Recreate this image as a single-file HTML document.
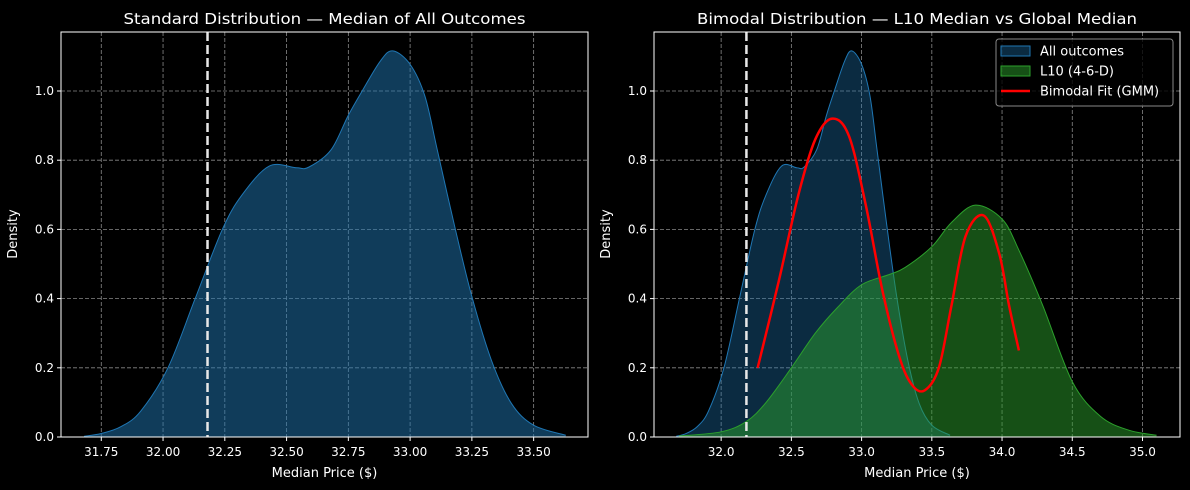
<!DOCTYPE html>
<html><head><meta charset="utf-8"><style>
html,body{margin:0;padding:0;background:#000;width:1190px;height:490px;overflow:hidden}
svg{display:block;font-family:"DejaVu Sans","Liberation Sans",sans-serif}
</style></head><body>
<svg id="chart" width="1190" height="490" viewBox="0 0 1190 490"></svg>
<script>
const allX=[31.68,31.75,31.83,31.91,32.02,32.13,32.24,32.32,32.43,32.54,32.59,32.68,32.75,32.81,32.88,32.93,33.0,33.06,33.11,33.18,33.25,33.33,33.41,33.5,33.63];
const allY=[0.002,0.01,0.03,0.075,0.2,0.4,0.6,0.7,0.783,0.778,0.78,0.83,0.93,1.005,1.087,1.116,1.077,0.985,0.83,0.61,0.406,0.22,0.097,0.034,0.005];
const l10X=[31.7,32.0,32.18,32.32,32.5,32.67,32.83,33.0,33.2,33.31,33.5,33.64,33.81,34.0,34.12,34.29,34.5,34.7,34.9,35.1];
const l10Y=[0.003,0.015,0.045,0.1,0.2,0.3,0.375,0.44,0.47,0.49,0.55,0.62,0.67,0.63,0.54,0.38,0.16,0.06,0.02,0.005];
const gmmX=[32.26,32.41,32.55,32.67,32.79,32.91,33.03,33.15,33.27,33.36,33.45,33.55,33.64,33.74,33.87,33.98,34.05,34.12];
const gmmY=[0.2,0.45,0.7,0.86,0.92,0.87,0.67,0.42,0.23,0.15,0.135,0.2,0.38,0.58,0.64,0.53,0.38,0.25];
const medianVal=32.18;
const leftTicks=[31.75,32.00,32.25,32.50,32.75,33.00,33.25,33.50];
const rightTicks=[32.0,32.5,33.0,33.5,34.0,34.5,35.0];
const yTicks=[0.0,0.2,0.4,0.6,0.8,1.0];

const NS="http://www.w3.org/2000/svg";
const svg=document.getElementById('chart');
function mk(tag,attrs,parent,name){const e=document.createElementNS(NS,tag);for(const k in attrs)e.setAttribute(k,attrs[k]);(parent||svg).appendChild(e);


return e;}
function smooth(pts){let d=`M${pts[0][0]},${pts[0][1]}`;for(let i=0;i<pts.length-1;i++){const p0=pts[i-1]||pts[i],p1=pts[i],p2=pts[i+1],p3=pts[i+2]||p2;
d+=` C${p1[0]+(p2[0]-p0[0])/6},${p1[1]+(p2[1]-p0[1])/6} ${p2[0]-(p3[0]-p1[0])/6},${p2[1]-(p3[1]-p1[1])/6} ${p2[0]},${p2[1]}`;}return d;}
function panel(o){
  const g=mk('g',{},svg,o.name);
  const xs=v=>o.x0+(v-o.d0)*(o.x1-o.x0)/(o.d1-o.d0);
  const ys=v=>437-v*346;
  o.ticks.forEach(t=>{mk('line',{x1:xs(t),x2:xs(t),y1:32,y2:437,stroke:'#888','stroke-width':0.8,'stroke-dasharray':'4,2'},g,'x-grid-line');
    mk('line',{x1:xs(t),x2:xs(t),y1:437,y2:441,stroke:'#fff'},g,'x-tick');
    const tx=mk('text',{x:xs(t),y:456,fill:'#fff','font-size':12,'text-anchor':'middle'},g,'x-tick-label');tx.textContent=o.fmt(t);});
  yTicks.forEach(t=>{if(t>0)mk('line',{x1:o.x0,x2:o.x1,y1:ys(t),y2:ys(t),stroke:'#888','stroke-width':0.8,'stroke-dasharray':'4,2'},g,'y-grid-line');
    mk('line',{x1:o.x0-4,x2:o.x0,y1:ys(t),y2:ys(t),stroke:'#fff'},g,'y-tick');
    const tx=mk('text',{x:o.x0-7,y:ys(t)+4,fill:'#fff','font-size':12,'text-anchor':'end'},g,'y-tick-label');tx.textContent=t.toFixed(1);});
  o.series.forEach(s=>{const pts=s.x.map((v,i)=>[xs(v),ys(s.y[i])]);const d=smooth(pts);
    if(s.fill){mk('path',{d:d+` L${pts[pts.length-1][0]},437 L${pts[0][0]},437 Z`,fill:s.fill,stroke:'none'},g,s.name+'-fill');}
    mk('path',{d:d,fill:'none',stroke:s.stroke,'stroke-width':s.w},g,s.name+'-line');});
  mk('line',{x1:xs(medianVal),x2:xs(medianVal),y1:32,y2:437,stroke:'#e8e8e8','stroke-width':2.5,'stroke-dasharray':'9,4'},g,'median-line');
  mk('rect',{x:o.x0,y:32,width:o.x1-o.x0,height:405,fill:'none',stroke:'#fff','stroke-width':1},g,'plot-frame');
  const t=mk('text',{x:(o.x0+o.x1)/2,y:24,fill:'#fff','font-size':15.5,'text-anchor':'middle',textLength:o.tl,lengthAdjust:'spacingAndGlyphs'},g,'chart-title');t.textContent=o.title;
  const xl=mk('text',{x:(o.x0+o.x1)/2,y:477,fill:'#fff','font-size':13,'text-anchor':'middle'},g,'x-axis-title');xl.textContent='Median Price ($)';
  const yl=mk('text',{x:0,y:0,fill:'#fff','font-size':13,'text-anchor':'middle',transform:`translate(${o.x0-44},234) rotate(-90)`},g,'y-axis-title');yl.textContent='Density';
}
panel({name:'left-panel',x0:61,x1:588,d0:31.587,d1:33.72,ticks:leftTicks,fmt:t=>t.toFixed(2),tl:402,title:'Standard Distribution — Median of All Outcomes',
  series:[{name:'all-outcomes',x:allX,y:allY,fill:'rgba(31,119,180,0.5)',stroke:'#1f77b4',w:1}]});
panel({name:'right-panel',x0:654,x1:1180,d0:31.522,d1:35.267,ticks:rightTicks,fmt:t=>t.toFixed(1),tl:440,title:'Bimodal Distribution — L10 Median vs Global Median',
  series:[{name:'all-outcomes',x:allX,y:allY,fill:'rgba(31,119,180,0.36)',stroke:'#1f77b4',w:1},
          {name:'l10',x:l10X,y:l10Y,fill:'rgba(44,160,44,0.5)',stroke:'#2ca02c',w:1},
          {name:'gmm-fit',x:gmmX,y:gmmY,fill:null,stroke:'#ff0000',w:2.5}]});
const lg=mk('g',{},svg,'legend');
mk('rect',{x:996,y:39,width:177,height:67,rx:3,fill:'rgba(0,0,0,0.8)',stroke:'#888'},lg,'legend-box');
const items=[['All outcomes','rect','rgba(31,119,180,0.36)','#1f77b4'],['L10 (4-6-D)','rect','rgba(44,160,44,0.5)','#2ca02c'],['Bimodal Fit (GMM)','line','#f00','#f00']];
items.forEach((it,i)=>{const y=51+i*20;const e=mk('g',{},lg,'legend-entry');
  if(it[1]==='rect')mk('rect',{x:1001,y:y-5,width:29,height:10,fill:it[2],stroke:it[3]},e,'legend-swatch');
  else mk('line',{x1:1001,x2:1030,y1:y,y2:y,stroke:'#f00','stroke-width':2.5},e,'legend-swatch');
  const t=mk('text',{x:1040,y:y+4.5,fill:'#fff','font-size':13},e,'legend-label');t.textContent=it[0];});
</script>
</body></html>
